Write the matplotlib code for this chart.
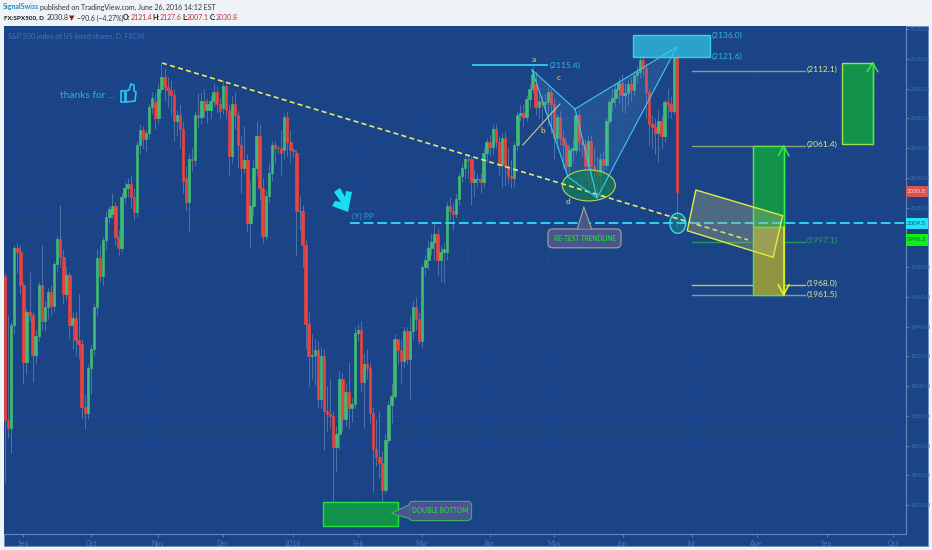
import matplotlib
matplotlib.use('Agg')
import matplotlib.pyplot as plt
from matplotlib.patches import Rectangle, Polygon, Ellipse, FancyBboxPatch
from matplotlib.transforms import Affine2D

plt.rcParams['font.family'] = ['Lato', 'DejaVu Sans']

# daily candles (one per bar, left to right)
opens = [1974,1877,1872,1941,1993,1990,1968,1916,1950,1948,1921,1934,1968,1944,1953,1963,1954,1982,1999,1987,
         1962,1975,1941,1946,1931,1928,1886,1882,1912,1925,1953,1986,1974,1998,2014,2016,2021,2000,1993,2027,
         2033,2036,2027,2017,2062,2072,2066,2070,2088,2091,2080,2100,2108,2101,2099,2096,2078,2082,2073,2040,
         2024,2053,2052,2082,2081,2092,2086,2086,2092,2098,2090,2087,2102,2086,2055,2090,2082,2062,2047,2052,
         2010,2021,2047,2068,2033,2001,2028,2043,2062,2060,2060,2059,2081,2064,2059,2057,2018,2018,1995,1942,
         1920,1921,1924,1891,1920,1883,1881,1880,1859,1868,1905,1878,1896,1885,1888,1936,1938,1903,1915,1912,
         1882,1858,1852,1848,1830,1864,1887,1893,1932,1924,1917,1937,1918,1937,1953,1945,1930,1980,1985,1993,
         1997,2002,1985,1990,1990,2021,2018,2016,2026,2041,2047,2053,2053,2037,2039,2039,2037,2057,2064,2061,
         2073,2064,2049,2067,2048,2041,2040,2062,2082,2084,2081,2093,2100,2103,2088,2092,2090,2091,2098,2090,
         2067,2081,2067,2062,2048,2059,2059,2082,2064,2063,2048,2065,2048,2045,2042,2053,2049,2078,2091,2094,
         2100,2104,2096,2097,2103,2099,2109,2111,2119,2114,2098,2076,2074,2070,2078,2068,2091,2090,2085,2121.4]
closes = [1877,1872,1941,1993,1990,1968,1916,1950,1948,1921,1934,1968,1944,1953,1963,1954,1982,1999,1987,1962,
          1975,1941,1946,1931,1928,1886,1882,1912,1925,1953,1986,1974,1998,2014,2019,2021,2000,1993,2027,2033,
          2036,2027,2017,2062,2072,2066,2070,2088,2094,2080,2100,2108,2101,2099,2096,2078,2082,2073,2038,2024,
          2053,2052,2082,2081,2092,2086,2090,2092,2098,2090,2085,2102,2086,2055,2090,2082,2062,2047,2052,2010,
          2021,2047,2068,2033,2001,2028,2043,2062,2060,2060,2057,2081,2064,2059,2058,2018,2018,1995,1942,1920,
          1921,1924,1891,1920,1883,1881,1880,1859,1868,1905,1878,1896,1885,1888,1936,1938,1903,1915,1912,1882,
          1858,1852,1848,1830,1864,1887,1893,1932,1924,1917,1937,1918,1937,1953,1945,1930,1980,1985,1993,1997,
          2002,1985,1990,1992,2021,2018,2016,2026,2041,2047,2053,2052,2037,2039,2039,2037,2057,2064,2061,2073,
          2064,2049,2067,2048,2041,2040,2062,2082,2084,2081,2093,2100,2110,2088,2092,2090,2091,2098,2090,2067,
          2081,2067,2062,2048,2059,2060,2082,2064,2063,2048,2065,2048,2045,2042,2053,2049,2078,2091,2094,2100,
          2104,2096,2097,2103,2099,2109,2111,2119,2114,2098,2076,2074,2070,2078,2068,2091,2090,2085,2121.6,2030.8]
highs = [1976,1948,1943,1995,1996,1995,1970,1952,1977,1950,1938,1970,1995,1957,1966,1968,1984,2001,2022,1992,
         1980,1977,1950,1950,1962,1932,1895,1915,1928,1956,1992,1995,2000,2018,2021,2030,2024,2005,2030,2037,
         2040,2042,2033,2065,2076,2075,2072,2090,2098,2097,2104,2117,2114,2108,2106,2100,2086,2090,2078,2048,
         2056,2060,2085,2097,2098,2100,2094,2096,2103,2102,2094,2106,2104,2090,2095,2098,2085,2068,2075,2056,
         2037,2052,2078,2076,2040,2032,2050,2065,2065,2062,2072,2084,2085,2072,2060,2059,2028,2022,1998,1950,
         1935,1932,1930,1926,1925,1900,1905,1883,1873,1910,1909,1902,1916,1892,1940,1942,1944,1922,1925,1916,
         1886,1878,1883,1856,1868,1890,1902,1935,1932,1932,1940,1940,1947,1957,1960,1950,1982,1988,1998,2003,
         2010,2006,1994,1996,2024,2027,2023,2029,2043,2050,2056,2056,2055,2046,2043,2043,2060,2067,2069,2076,
         2076,2068,2070,2071,2060,2052,2064,2085,2089,2090,2096,2103,2115,2112,2098,2096,2097,2102,2100,2094,
         2083,2085,2072,2064,2062,2067,2084,2086,2068,2066,2069,2069,2060,2055,2057,2058,2081,2093,2100,2104,
         2108,2110,2104,2106,2108,2112,2115,2122,2124,2117,2100,2082,2080,2086,2082,2093,2100,2095,2124,2127.6]
lows = [1835,1865,1855,1935,1976,1962,1902,1908,1944,1903,1915,1930,1938,1937,1945,1947,1950,1977,1980,1955,
        1958,1932,1925,1920,1918,1878,1871,1878,1895,1920,1948,1970,1968,1992,2010,2013,1995,1988,1990,2023,
        2027,2020,2012,2014,2056,2060,2058,2066,2083,2073,2076,2098,2092,2088,2082,2065,2068,2060,2030,2018,
        2004,2045,2049,2074,2076,2081,2077,2080,2088,2084,2080,2083,2080,2042,2050,2073,2047,2030,2043,2004,
        1993,2015,2041,2025,1996,1999,2024,2038,2050,2056,2042,2053,2055,2050,2054,1988,2005,1980,1925,1900,
        1905,1901,1885,1885,1857,1870,1872,1812,1843,1858,1870,1873,1872,1876,1885,1930,1896,1872,1905,1875,
        1829,1846,1838,1807,1828,1862,1875,1892,1915,1902,1912,1915,1891,1932,1938,1928,1926,1975,1978,1988,
        1985,1975,1970,1969,1985,2012,2005,2013,2022,2037,2040,2040,2022,2027,2034,2030,2033,2051,2055,2056,
        2060,2042,2034,2035,2036,2033,2034,2058,2078,2075,2078,2088,2097,2082,2080,2076,2085,2075,2070,2053,
        2060,2062,2046,2044,2044,2050,2056,2058,2055,2040,2038,2036,2030,2030,2026,2044,2046,2076,2085,2088,
        2090,2085,2084,2089,2092,2095,2104,2107,2108,2080,2062,2060,2056,2051,2060,2064,2080,2080,2083,2007.1]

month_ticks = [5.9, 28, 49.8, 71, 93.8, 115, 135.8, 158, 179, 201.3, 223.8, 245, 267.8, 289.6]
month_labels = ['Sep', 'Oct', 'Nov', 'Dec', '2016', 'Feb', 'Mar', 'Apr', 'May', 'Jun', 'Jul', 'Aug', 'Sep', 'Oct']
price_ticks = list(range(1820, 2141, 20))

trend_x = [51.2, 242.2]
trend_y = [2117.3, 1998.3]
pp_level = 2009.5
fib_levels = [2112.1, 2061.4, 1997.1, 1968.0, 1961.5]
fib_colors = ['#7f9f9f', '#88a878', '#1c9a58', '#c4c45a', '#7f9f9f']
label_colors = ['#e6e68c', '#e6e68c', '#2aa068', '#e6e68c', '#e6e68c']

BLUE = '#1b4487'
GREEN = '#12924a'
LABEL = 6

fig = plt.figure(figsize=(9.32, 5.5), dpi=100, facecolor='#eef3f7')
pix = Affine2D().scale(1, -1).translate(0, 550)
fig.add_artist(Rectangle((4, 26), 924, 520, transform=pix, fc=BLUE, ec='#6f8fbf', lw=0.6, zorder=-1))

ax = fig.add_axes([4/932, 1-534/550, 902/932, 508/550], facecolor=BLUE)
ax.set_xlim(-0.33, 293.7)
ax.set_ylim(1800.5, 2142.2)
for s in ['top', 'left']:
    ax.spines[s].set_visible(False)
for s in ['right', 'bottom']:
    ax.spines[s].set_color('#6486b8')
ax.yaxis.tick_right()
ax.set_yticks(price_ticks, [f'{p:.1f}' for p in price_ticks])
ax.set_xticks(month_ticks, month_labels)
ax.tick_params(axis='y', colors='#6486b8', labelcolor='#3f6cc0', labelsize=4.6, length=2, width=0.6, pad=1)
ax.tick_params(axis='x', colors='#6486b8', labelcolor='#4d79bb', labelsize=5, length=2, width=0.6, pad=2)
ax.grid(axis='y', color='#1e479a', lw=0.8)
ax.grid(axis='x', color='#1d478e', lw=0.6)
ax.set_axisbelow(True)

ax.text(150, 1985, 'SPX500, D', color='#1d468a', fontsize=34, ha='center', va='center', zorder=1)

# candles
xs = list(range(len(closes)))
ax.vlines(xs, lows, highs, color='#8098be', lw=0.6, alpha=0.65, zorder=2)
colors = ['#3fbb74' if c >= o else '#e8433c' for o, c in zip(opens, closes)]
ax.bar(xs, [abs(c - o) for o, c in zip(opens, closes)], bottom=[min(o, c) for o, c in zip(opens, closes)],
       width=0.8, color=colors, edgecolor=colors, lw=0.5, zorder=3)

# trend line and pivot
ax.plot(trend_x, trend_y, color='#e8e86a', lw=1.2, ls=(0, (3, 2)), zorder=5)
ax.plot([112.4, 293.7], [pp_level, pp_level], color='#2fd0f0', lw=1.4, ls=(0, (5, 2)), zorder=5)
ax.text(113.1, 2011.5, '(Y) PP', color='#2aa6d8', fontsize=LABEL, va='bottom')

# harmonic pattern
ax.add_patch(Polygon(list(zip([171.8, 185.8, 193, 183.5], [2112.6, 2086.4, 2026.6, 2040.7])),
                     fc='#5fb4e8', alpha=0.15, ec='none', zorder=4))
ax.add_patch(Polygon(list(zip([185.8, 219, 193], [2086.4, 2128.1, 2026.6])),
                     fc='#5fb4e8', alpha=0.15, ec='none', zorder=4))
ax.plot([171.8, 185.8, 193, 183.5, 171.8], [2112.6, 2086.4, 2026.6, 2040.7, 2112.6], color='#3cc8f0', lw=0.8, zorder=5)
ax.plot([185.8, 219, 193], [2086.4, 2128.1, 2026.6], color='#3cc8f0', lw=0.8, zorder=5)
ax.plot([168.8, 180.9], [2062.2, 2089.8], color='#c8c890', lw=0.8, zorder=5)
ax.plot([152.5, 176.7], [2116, 2116], color='#2fd0f0', lw=1.3, zorder=5)
ax.text(177.6, 2116, '(2115.4)', color='#2fb8e8', fontsize=LABEL, va='center')
for t, lx, ly in [('a', 172.4, 2120), ('c', 180.6, 2107.3), ('b', 175.4, 2072), ('d', 183.5, 2024)]:
    ax.text(lx, ly, t, color='#e0e060', fontsize=6, ha='center', va='center', zorder=6)
ax.add_patch(Ellipse((190.3, 2035), 17.3, 20.9, fc='#177f55', alpha=0.72, ec='none', zorder=4))
ax.add_patch(Ellipse((190.3, 2035), 17.3, 20.9, fc='none', ec='#b4d850', lw=0.8, zorder=5))
ax.add_patch(Ellipse((219.3, 2009.5), 5.2, 13.5, fc='#1c8c8c', alpha=0.5, ec='none', zorder=4))
ax.add_patch(Ellipse((219.3, 2009.5), 5.2, 13.5, fc='none', ec='#30e0e0', lw=1.0, zorder=6))

# top zone
ax.add_patch(Rectangle((204.7, 2121.6), 25.1, 14.4, fc='#2db3d8', alpha=0.85, ec='#40e0f0', lw=1.0, zorder=4))
ax.text(230.4, 2136, '(2136.0)', color='#2fb8e8', fontsize=LABEL, va='center')
ax.text(230.4, 2121.6, '(2121.6)', color='#2fb8e8', fontsize=LABEL, va='center')

# target levels
for lev, col, lab in zip(fib_levels, fib_colors, label_colors):
    ax.plot([223.8, 260.8], [lev, lev], color=col, lw=1.0, zorder=4)
    ax.text(261.4, lev + (1 if lev > 1965 else 0), f'({lev:.1f})', color=lab, fontsize=LABEL, va='center', zorder=6)

# green/olive boxes
ax.add_patch(Rectangle((272.7, 2063), 10.1, 54.5, fc=GREEN, ec='#a0e050', lw=1.0, zorder=4))
ax.plot([282.8, 282.8], [2063, 2117.5], color='#30f040', lw=1.0, zorder=5)
ax.plot([281.1, 282.8, 284.5], [2111.5, 2117.5, 2111.5], color='#30f040', lw=1.1, zorder=5)
ax.add_patch(Rectangle((243.7, 2006.8), 10.1, 54.6, fc=GREEN, ec='#70e040', lw=1.0, zorder=4))
ax.plot([253.8, 253.8], [2006.8, 2061.4], color='#30f040', lw=1.0, zorder=7)
ax.plot([252.1, 253.8, 255.5], [2055, 2061.4, 2055], color='#30f040', lw=1.1, zorder=7)
ax.add_patch(Rectangle((243.7, 1961.5), 10.1, 45.3, fc='#8f9540', ec='#60e040', lw=1.0, zorder=4))
ax.plot([253.8, 253.8], [2006.8, 1961.5], color='#f0f020', lw=1.1, zorder=7)
ax.plot([252.1, 253.8, 255.5], [1968, 1961.5, 1968], color='#f0f020', lw=1.2, zorder=7)
ax.add_patch(Polygon(list(zip([225.2, 253.5, 250.4, 222.4], [2031.9, 2014.6, 1986.6, 2004.5])),
                     fc='#b8b87a', alpha=0.33, ec='none', zorder=5))
ax.add_patch(Polygon(list(zip([225.2, 253.5, 250.4, 222.4], [2031.9, 2014.6, 1986.6, 2004.5])),
                     fc='none', ec='#e8e840', lw=1.0, zorder=6))

# callouts
ax.add_patch(Rectangle((103.8, 1806), 24.2, 16.2, fc=GREEN, ec='#22e040', lw=1.0, zorder=4))
ax.add_patch(FancyBboxPatch((131.6, 1809.5), 20.5, 13, boxstyle='round,pad=0,rounding_size=1.5',
                            mutation_aspect=2.06, fc='#4a5590', ec='#3ac060', lw=0.7, zorder=5))
ax.add_patch(Polygon(list(zip([131.8, 126, 131.8], [1820, 1814.4, 1811])), fc='#4a5590', ec='none', zorder=5))
ax.plot([131.6, 126, 131.6], [1820, 1814.4, 1811], color='#3ac060', lw=0.7, zorder=5)
ax.text(141.8, 1816, 'DOUBLE BOTTOM', color='#22d040', fontsize=4.7, fontweight='bold', ha='center', va='center', zorder=6)

ax.add_patch(FancyBboxPatch((177, 1993), 23.8, 12.7, boxstyle='round,pad=0,rounding_size=1.5',
                            mutation_aspect=2.06, fc='#4a5590', ec='#a8a890', lw=0.8, zorder=5))
ax.add_patch(Polygon(list(zip([186.6, 188.7, 191.2], [2005.9, 2020.5, 2005.9])), fc='#4a5590', ec='none', zorder=5))
ax.plot([186.6, 188.7, 191.2], [2005.7, 2020.5, 2005.7], color='#a8a890', lw=0.8, zorder=5)
ax.text(188.9, 1999.3, 'RE-TEST TRENDLINE', color='#22d040', fontsize=4.7, fontweight='bold', ha='center', va='center', zorder=6)

# right scale price tags
for lev, bg, fg in [(2030.8, '#d9534f', '#f4d8d0'), (2009.5, '#25e4f8', '#14507a'), (1998.3, '#12f012', '#14506a')]:
    ax.add_patch(Rectangle((293.7, lev - 3.8), 7.2, 7.6, fc=bg, ec='none', clip_on=False, zorder=8))
    ax.text(300.2, lev, f'{lev:.1f}', color=fg, fontsize=4.4, ha='right', va='center', clip_on=False, zorder=9)

# drawings placed on the page itself
fig.add_artist(Polygon([(340, 188), (334, 192), (341, 202), (335, 201), (332, 206), (348, 212), (352, 192), (346, 191), (345, 197)],
                       transform=pix, fc='#18e0f4', ec='none'))
fig.add_artist(Polygon([(126, 91), (129, 90), (131, 84), (134, 85), (134, 91), (136, 92), (135, 101), (126, 102)],
                       transform=pix, fc='none', ec='#28c4f0', lw=1.2))
fig.add_artist(Rectangle((120.5, 91), 4, 11, transform=pix, fc='none', ec='#28c4f0', lw=1.2))
fig.text(60/932, 1-95/550, 'thanks for ...', color='#1fb4e6', fontsize=7.3, va='center')
fig.text(8/932, 1-36/550, 'S&P 500 index of US listed shares, D, FXCM', color='#3f72c8', fontsize=5, va='center')

# header
def head(x, y, s, **kw):
    fig.text(x/932, 1-y/550, s, va='center', fontsize=kw.pop('fontsize', 5), **kw)

head(3, 7, 'SignalSwiss', color='#2a8fbd', fontweight='bold')
head(40, 7, 'published on TradingView.com, June 26, 2016 14:12 EST', color='#333333')
head(4, 18, 'FX:SPX500, D', color='#111111', fontweight='bold', fontsize=4.6)
head(47, 18, '2030.8', color='#333333')
head(69, 18, '▼', color='#8b1a1a', family=['DejaVu Sans'], fontsize=5)
head(77, 18, '−90.6 (−4.27%)', color='#333333')
for lx, lab, vx, val in [(123, 'O:', 131, '2121.4'), (152, 'H:', 160, '2127.6'), (182, 'L:', 187, '2007.1'), (210, 'C:', 216, '2030.8')]:
    head(lx, 18, lab, color='#111111', fontweight='bold')
    head(vx, 18, val, color='#c0303a')

fig.savefig('out.png', dpi=100, facecolor=fig.get_facecolor())
